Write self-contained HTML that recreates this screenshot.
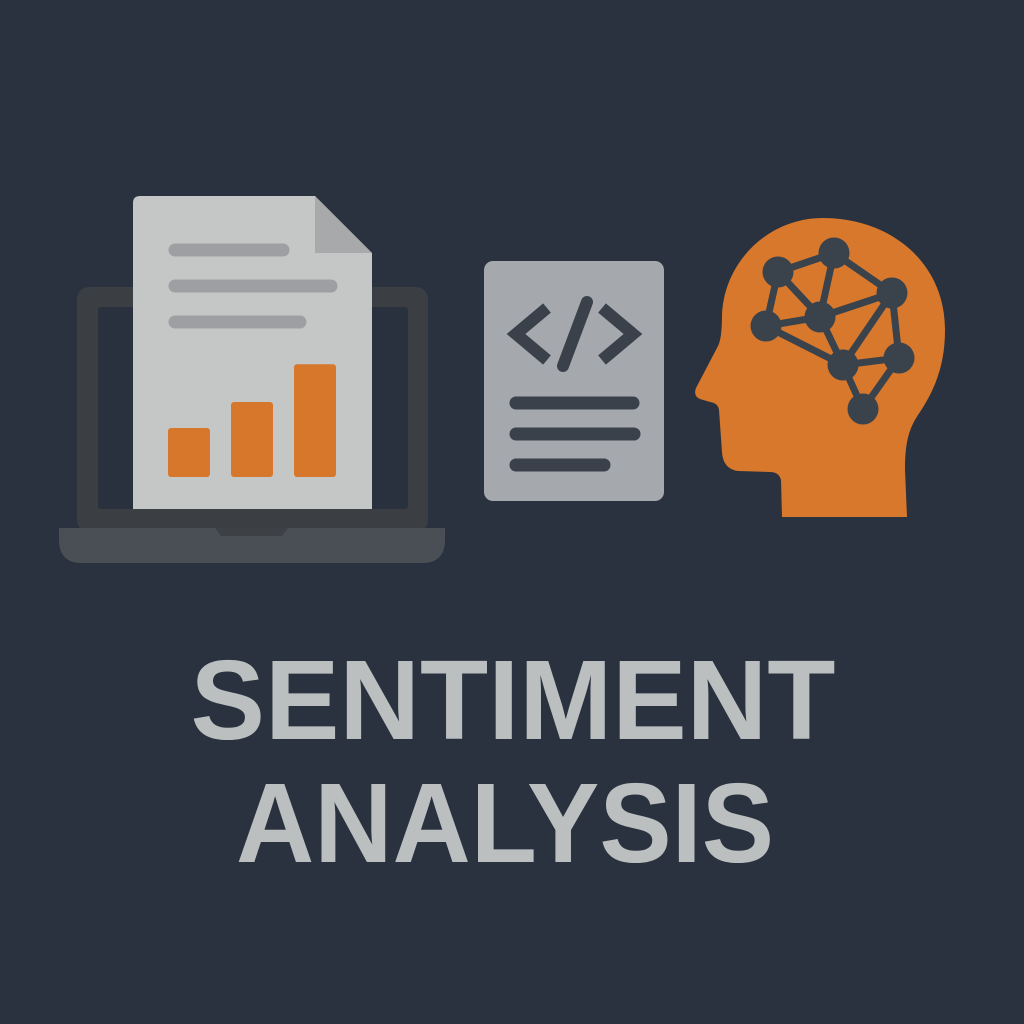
<!DOCTYPE html>
<html><head><meta charset="utf-8"><style>
html,body{margin:0;padding:0;background:#29323e;}
svg{display:block}
</style></head><body>
<svg width="1024" height="1024" viewBox="0 0 1024 1024">
<rect x="0" y="0" width="1024" height="1024" fill="#29323e"/>
<g>
  <rect x="77" y="287" width="351" height="245" rx="12" fill="#3b3f44"/>
  <rect x="98" y="307" width="310" height="202" rx="3" fill="#28313d"/>
  <path d="M59 528 H445 V540 Q445 563 422 563 H82 Q59 563 59 540 Z" fill="#4a4f55"/>
  <path d="M215 528 H288 L282 536 H221 Z" fill="#3d4146"/>
</g>
<g>
  <path d="M140 196 H315 L372 253 V509 H133 V203 Q133 196 140 196 Z" fill="#c5c7c6"/>
  <path d="M315 196 L372 253 H315 Z" fill="#a7a9aa"/>
  <g stroke="#9d9fa2" stroke-width="13" stroke-linecap="round">
    <line x1="175" y1="250" x2="283" y2="250"/>
    <line x1="175" y1="286" x2="331" y2="286"/>
    <line x1="175" y1="322" x2="300" y2="322"/>
  </g>
  <g id="bars"></g>
</g>
<g>
  <rect x="484" y="261" width="180" height="240" rx="9" fill="#a5a8ac"/>
  <g fill="none" stroke="#3a414a" stroke-width="12" stroke-linejoin="miter" stroke-linecap="butt">
    <polyline points="547,308 516,334 547,360"/>
    <polyline points="602,308 633,334 602,360"/>
    <line x1="587" y1="302" x2="563" y2="366" stroke-linecap="round"/>
  </g>
  <g stroke="#3a414a" stroke-width="13" stroke-linecap="round">
    <line x1="516" y1="403" x2="633" y2="403"/>
    <line x1="516" y1="434" x2="634" y2="434"/>
    <line x1="516" y1="465" x2="604" y2="465"/>
  </g>
</g>
<g>
  <path d="M823 218 C890 218 945 262 945 330 C945 365 935 390 918 415 C908 430 905 445 905 470 L907 517 H782 L781 480 Q779 472 770 472 L738 471 Q723 469 722 452 L719 410 Q718 403 710 402 L700 399 Q693 396 696 388 L718 346 Q722 338 722 315 C724 262 768 218 823 218 Z" fill="#d7782d"/>
  <g id="network"></g>
</g>
<g fill="#bbbfc0" font-family="'Liberation Sans', Arial, sans-serif" font-weight="bold" font-size="113" text-anchor="middle">
  <text x="513" y="739" textLength="645" lengthAdjust="spacingAndGlyphs">SENTIMENT</text>
  <text x="505" y="862" textLength="538" lengthAdjust="spacingAndGlyphs">ANALYSIS</text>
</g>
</svg>
<script>
const barValues = [1, 1.53, 2.3];
const barLabels = ['low', 'mid', 'high'];
const nodesX = [778, 834, 892, 766, 820, 843, 899, 863];
const nodesY = [272, 253, 293, 326, 317, 365, 358, 409];
const edgesFrom = [0,0,0,1,1,2,2,2,3,3,4,5,5,6];
const edgesTo   = [1,3,4,4,2,4,5,6,4,5,5,6,7,7];

const NS = 'http://www.w3.org/2000/svg';
const bars = document.getElementById('bars');
const baseY = 477, unit = 49, bx0 = 168, bstep = 63, bw = 42;
barValues.forEach((v, i) => {
  const r = document.createElementNS(NS, 'rect');
  const h = v * unit;
  r.setAttribute('x', bx0 + i * bstep);
  r.setAttribute('y', baseY - h);
  r.setAttribute('width', bw);
  r.setAttribute('height', h);
  r.setAttribute('rx', 3);
  r.setAttribute('fill', '#d7772c');
  
  
  bars.appendChild(r);
});
const net = document.getElementById('network');
edgesFrom.forEach((a, i) => {
  const b = edgesTo[i];
  const l = document.createElementNS(NS, 'line');
  l.setAttribute('x1', nodesX[a]); l.setAttribute('y1', nodesY[a]);
  l.setAttribute('x2', nodesX[b]); l.setAttribute('y2', nodesY[b]);
  l.setAttribute('stroke', '#3a424c'); l.setAttribute('stroke-width', 7);
  
  
  net.appendChild(l);
});
nodesX.forEach((x, i) => {
  const c = document.createElementNS(NS, 'circle');
  c.setAttribute('cx', x); c.setAttribute('cy', nodesY[i]); c.setAttribute('r', 15.5);
  c.setAttribute('fill', '#3a424c');
  
  
  net.appendChild(c);
});
</script>
</body></html>
